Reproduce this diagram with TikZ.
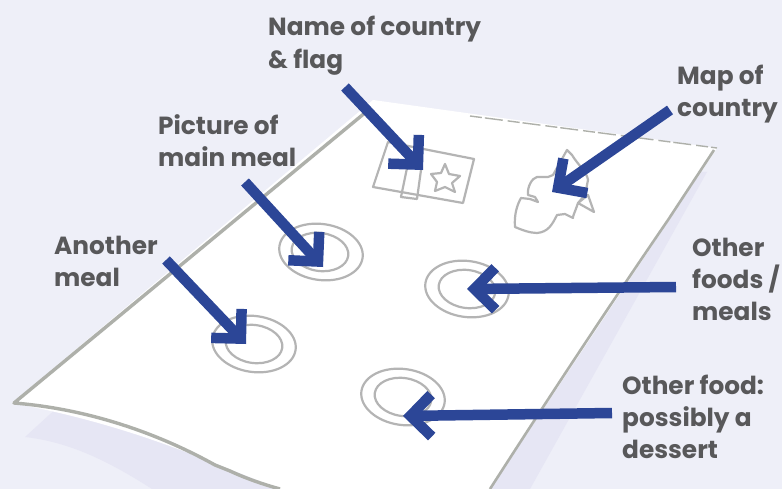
\documentclass[tikz,border=0pt]{standalone}
\usepackage{fontspec}
\setmainfont{Poppins}
\usetikzlibrary{arrows.meta,shapes.geometric}
\definecolor{bgc}{HTML}{EEEFF8}
\definecolor{shadowc}{HTML}{E6E6F4}
\definecolor{edgec}{HTML}{AEB0AA}
\definecolor{linec}{HTML}{B4B4B4}
\definecolor{arrowc}{HTML}{2C4697}
\definecolor{textc}{HTML}{58585A}
\tikzset{
  lab/.style={anchor=north west,inner sep=0pt,align=left,text=textc,font=\fontsize{24.8}{32}\selectfont\bfseries},
  pointer/.style={draw=arrowc,line width=10.5pt,-{Straight Barb[length=21pt,width=42pt,sharp,line width=10.5pt]}},
  plate/.style={draw=linec,line width=2.2pt,shape=ellipse,inner sep=0pt},
  sketch/.style={draw=linec,line width=2.2pt,line join=round},
  rim/.style={draw=edgec,line join=round},
}
\begin{document}
\begin{tikzpicture}[x=1pt,y=-1pt]
\useasboundingbox (0,0) rectangle (782,489);
\fill[bgc] (0,0) rectangle (782,489);
% shadow
\fill[shadowc] (25,437) -- (60,405) -- (700,172) -- (707,172) -- (530,489) -- (152,489) .. controls (110,462) and (70,442) .. (25,437) -- cycle;
% sheet
\fill[white] (373,100) -- (717,148) -- (490,489) -- (280,489) .. controls (200,458) and (130,425) .. (12,403) -- cycle;
% sheet rim
\draw[rim,line width=3.4pt] (366,112) -- (14,403) .. controls (100,410) and (170,440) .. (215,465) -- (230,471) .. controls (245,478) and (262,484) .. (280,489);
\draw[rim,line width=2.6pt] (714,150) -- (668,220) .. controls (620,290) and (560,380) .. (490,489);
\draw[rim,line width=1.4pt,dash pattern=on 12pt off 3pt on 18pt off 5pt] (470,116) -- (717,148);
% plates
\node[plate,minimum width=84pt,minimum height=56pt,rotate=-8] (m1) at (321,252) {};
\node[plate,minimum width=57pt,minimum height=38pt,rotate=-8] (m2) at (320,252) {};
\node[plate,minimum width=84pt,minimum height=56pt,rotate=-8] (a1) at (254,344) {};
\node[plate,minimum width=57pt,minimum height=38pt,rotate=-8] (a2) at (254,344) {};
\node[plate,minimum width=84pt,minimum height=56pt,rotate=-8] (f1) at (467,289) {};
\node[plate,minimum width=57pt,minimum height=38pt,rotate=-8] (f2) at (467,289) {};
\node[plate,minimum width=84pt,minimum height=56pt,rotate=-8] (d1) at (403,397) {};
\node[plate,minimum width=57pt,minimum height=38pt,rotate=-8] (d2) at (403,397) {};
% flag
\draw[sketch] (388,142) -- (474,159) -- (463,203) -- (373,187) -- cycle;
\draw[sketch] (407,168) -- (401,197) -- (417,199) -- (421,170);
\draw[sketch] (445,164) -- (449,174) -- (460,176) -- (452,183) -- (455,192) -- (445,187) -- (435,191) -- (437,182) -- (431,174) -- (441,173) -- cycle;
% map
\draw[sketch] (515,227) .. controls (514,215) and (517,205) .. (521,198) -- (530,199) -- (538,202) -- (535,197) -- (528,195) .. controls (527,187) and (532,178) .. (537,177) -- (548,177) -- (553,175) -- (567,150) -- (572,155) .. controls (578,165) and (587,172) .. (588,180) -- (585,195) -- (578,203) -- (594,212) -- (588,195) -- (578,203) .. controls (575,212) and (572,218) .. (573,218) -- (565,214) -- (557,215) .. controls (552,225) and (548,232) .. (537,233) .. controls (530,233) and (522,230) .. (515,227) -- cycle;
% labels
\node[lab] (ln) at (268,16) {Name of country\\[1pt]\& flag};
\node[lab] (lm) at (677,65) {Map of\\country};
\node[lab] (lp) at (158,114) {Picture of\\main meal};
\node[lab] (la) at (54,236) {Another\\meal};
\node[lab] (lf) at (692,238) {Other\\foods /\\meals};
\node[lab] (ld) at (622,375) {Other food:\\possibly a\\dessert};
% connector ends
\coordinate (sn) at (345,87);  \coordinate (tn) at (423,170);
\coordinate (sm) at (670,110); \coordinate (tm) at (552,192);
\coordinate (sp) at (245,182); \coordinate (tp) at (323,267);
\coordinate (sa) at (166,260); \coordinate (ta) at (246,344);
\coordinate (sf) at (676,287); \coordinate (tf) at (467,289);
\coordinate (sd) at (612,413); \coordinate (td) at (403,416);
\draw[pointer] (sn) -- (tn);
\draw[pointer] (sm) -- (tm);
\draw[pointer] (sp) -- (tp);
\draw[pointer] (sa) -- (ta);
\draw[pointer] (sf) -- (tf);
\draw[pointer] (sd) -- (td);
\end{tikzpicture}
\end{document}
